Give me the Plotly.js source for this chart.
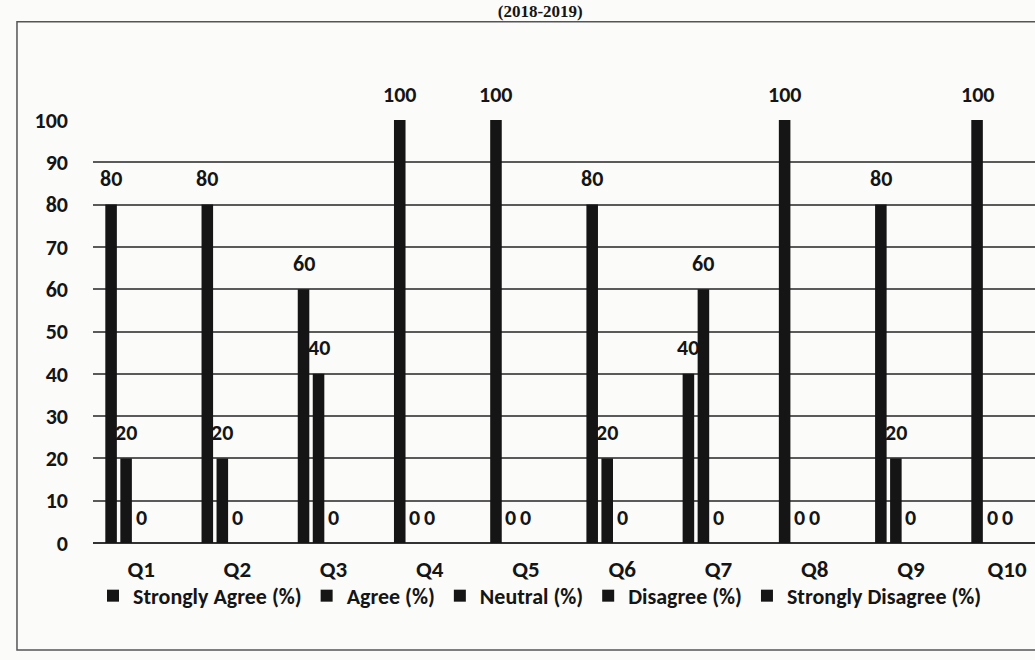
<!DOCTYPE html>
<html>
<head>
<meta charset="utf-8">
<script src="https://cdn.plot.ly/plotly-3.0.1.min.js"></script>
<style>
html,body{margin:0;padding:0;background:#fbfbfa;}
#chart{width:1035px;height:660px;}
</style>
</head>
<body>
<div id="chart"></div>
<script>
// ---- data ----
const categories = ['Q1','Q2','Q3','Q4','Q5','Q6','Q7','Q8','Q9','Q10'];
const seriesNames = ['Strongly Agree (%)','Agree (%)','Neutral (%)','Disagree (%)','Strongly Disagree (%)'];
const stronglyAgree    = [80, 80, 60, 100, 100, 80, 40, 100, 80, 100];
const agree            = [20, 20, 40, 0, 0, 20, 60, 0, 20, 0];
const neutral          = [0, 0, 0, 0, 0, 0, 0, 0, 0, 0];
const disagree         = [null, null, null, null, null, null, null, null, null, null];
const stronglyDisagree = [null, null, null, null, null, null, null, null, null, null];
const yTicks = [0,10,20,30,40,50,60,70,80,90,100];

const seriesValues = [stronglyAgree, agree, neutral, disagree, stronglyDisagree];

// ---- style ----
const FONT = 'Carlito, Lato, sans-serif';
const WEIGHT = 600;
const INK = '#151515';
const W = 1035, H = 660;
const M = {l:93, r:0, t:120, b:117};
const X_RANGE = [-0.5, 9.29];
const BARGAP = 0.22;

const traces = seriesValues.map((vals, i) => ({
  type:'bar',
  name: seriesNames[i],
  x: categories,
  y: vals,
  marker:{color:INK},
  hoverinfo:'y'
}));

// value labels, placed on each bar through the axis scales
const plotW = W - M.l - M.r;
const catPx = plotW / (X_RANGE[1] - X_RANGE[0]);
const slotPx = catPx * (1 - BARGAP) / seriesValues.length;
const annotations = [];
seriesValues.forEach((vals, i) => {
  vals.forEach((v, j) => {
    if (v === null) return;
    annotations.push({
      x: categories[j], y: v, xref:'x', yref:'y',
      text: String(v), showarrow:false,
      xshift: (i - (seriesValues.length - 1) / 2) * slotPx,
      yshift: 26, yanchor:'middle', xanchor:'center',
      font:{family:FONT, size:22, color:INK, weight:WEIGHT}
    });
  });
});

const layout = {
  width:W, height:H,
  margin:M,
  paper_bgcolor:'#fbfbfa',
  plot_bgcolor:'#fbfbfa',
  barmode:'group',
  bargap:BARGAP,
  bargroupgap:0.23,
  title:{
    text:'(2018-2019)',
    font:{family:'Liberation Serif, DejaVu Serif, serif', size:17, color:INK, weight:'bold'},
    x:0.522, xref:'container', xanchor:'center',
    y:0.993, yref:'container', yanchor:'top', pad:{t:0}
  },
  xaxis:{
    type:'category',
    range:X_RANGE,
    showgrid:false,
    showline:false,
    zeroline:false,
    ticks:'',
    ticklabelstandoff:10,
    tickfont:{family:FONT, size:23, color:INK, weight:WEIGHT}
  },
  yaxis:{
    range:[0,100],
    tickvals:yTicks,
    ticktext:yTicks.map(String),
    showgrid:true,
    gridcolor:'#5a5a5a',
    gridwidth:1.5,
    zeroline:true,
    zerolinecolor:'#333333',
    zerolinewidth:2,
    showline:false,
    ticks:'',
    ticklabelstandoff:24,
    tickfont:{family:FONT, size:22, color:INK, weight:WEIGHT}
  },
  legend:{
    orientation:'h',
    x:0.4745, xanchor:'center',
    y:-0.125, yanchor:'middle',
    xref:'paper', yref:'paper',
    itemwidth:30,
    traceorder:'normal',
    font:{family:FONT, size:22, color:INK, weight:WEIGHT},
    bgcolor:'rgba(0,0,0,0)'
  },
  annotations:annotations,
  shapes:[{
    type:'rect', xref:'paper', yref:'paper',
    x0:-0.0807, x1:1.05, y0:-0.253, y1:1.232,
    line:{color:'#555555', width:1.5},
    fillcolor:'rgba(0,0,0,0)', layer:'below'
  }],
  showlegend:true
};

Plotly.newPlot('chart', traces, layout, {displayModeBar:false, responsive:false});
</script>
</body>
</html>
